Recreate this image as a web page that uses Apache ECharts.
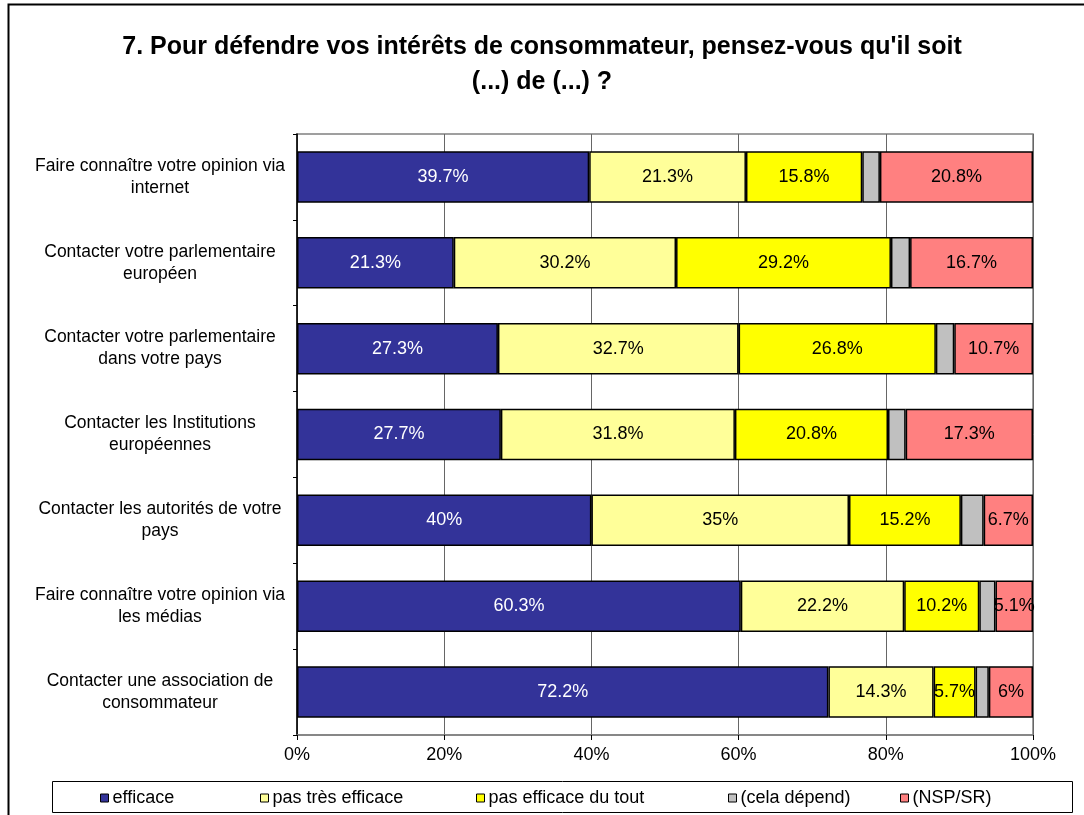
<!DOCTYPE html>
<html>
<head>
<meta charset="utf-8">
<script src="https://cdn.jsdelivr.net/npm/echarts@6/dist/echarts.min.js"></script>
<style>
  html, body { margin: 0; padding: 0; background: #fff; }
  #chart { width: 1084px; height: 815px; }
</style>
</head>
<body>
<div id="chart"></div>
<script>
// categories, top to bottom
var categories = [
    'Faire connaître votre opinion via\ninternet',
    'Contacter votre parlementaire\neuropéen',
    'Contacter votre parlementaire\ndans votre pays',
    'Contacter les Institutions\neuropéennes',
    'Contacter les autorités de votre\npays',
    'Faire connaître votre opinion via\nles médias',
    'Contacter une association de\nconsommateur'
];
var seriesNames = ['efficace', 'pas très efficace', 'pas efficace du tout', '(cela dépend)', '(NSP/SR)'];
var efficace = [39.7, 21.3, 27.3, 27.7, 40, 60.3, 72.2];
var pasTresEfficace = [21.3, 30.2, 32.7, 31.8, 35, 22.2, 14.3];
var pasEfficaceDuTout = [15.8, 29.2, 26.8, 20.8, 15.2, 10.2, 5.7];
var celaDepend = [2.4, 2.6, 2.5, 2.4, 3.1, 2.2, 1.8];
var nspSr = [20.8, 16.7, 10.7, 17.3, 6.7, 5.1, 6];
var xTicks = [0, 20, 40, 60, 80, 100];

var colors = ['#333399', '#FFFF99', '#FFFF00', '#C0C0C0', '#FF8080'];
var allData = [efficace, pasTresEfficace, pasEfficaceDuTout, celaDepend, nspSr];
var legendLeft = [95, 255, 471, 723, 895];
var font = 'Liberation Sans, Arial, sans-serif';

var myChart = echarts.init(document.getElementById('chart'));

var series = seriesNames.map(function(name, i) {
    return {
        name: name,
        type: 'bar',
        stack: 'total',
        barCategoryGap: '40%',
        data: allData[i],
        itemStyle: { color: colors[i], borderColor: '#000', borderWidth: 1.5 },
        label: {
            show: i !== 3,
            position: 'inside',
            color: i === 0 ? '#fff' : '#000',
            fontSize: 18,
            fontFamily: font,
            formatter: function(p) { return p.value + '%'; }
        },
        emphasis: { disabled: true }
    };
});

var legends = seriesNames.map(function(name, i) {
    return {
        data: [name],
        left: legendLeft[i],
        top: 784,
        icon: 'rect',
        itemWidth: 8,
        itemHeight: 8,
        itemGap: 0,
        selectedMode: false,
        itemStyle: { borderColor: '#000', borderWidth: 1 },
        textStyle: { fontSize: 18, fontFamily: font, color: '#000', padding: [0, 0, 0, -1] }
    };
});

var option = {
    animation: false,
    backgroundColor: '#fff',
    title: {
        text: "7. Pour défendre vos intérêts de consommateur, pensez-vous qu'il soit\n(...) de (...) ?",
        left: 'center',
        top: 25,
        textStyle: {
            fontSize: 25,
            fontWeight: 'bold',
            fontFamily: font,
            color: '#000',
            lineHeight: 35,
            align: 'center'
        }
    },
    legend: legends,
    grid: {
        left: 297,
        right: 51,
        top: 134,
        bottom: 80,
        show: true,
        borderColor: '#808080',
        borderWidth: 1.5
    },
    xAxis: {
        type: 'value',
        min: xTicks[0],
        max: xTicks[xTicks.length - 1],
        interval: 20,
        axisLine: { show: true, lineStyle: { color: '#808080', width: 1.5 } },
        axisTick: { show: true, length: 5, lineStyle: { color: '#000' } },
        splitLine: { show: true, lineStyle: { color: '#666', width: 1 } },
        axisLabel: {
            formatter: '{value}%',
            fontSize: 18,
            fontFamily: font,
            color: '#000',
            margin: 11
        }
    },
    yAxis: {
        type: 'category',
        inverse: true,
        data: categories,
        axisLine: { show: true, lineStyle: { color: '#000', width: 1.5 } },
        axisTick: { show: true, length: 4, lineStyle: { color: '#000' } },
        axisLabel: {
            align: 'center',
            margin: 137,
            fontSize: 17.5,
            lineHeight: 22,
            fontFamily: font,
            color: '#000'
        }
    },
    graphic: [
        {
            type: 'rect',
            shape: { x: 8.5, y: 4.5, width: 1200, height: 1000 },
            style: { fill: 'none', stroke: '#000', lineWidth: 2 },
            silent: true
        },
        {
            type: 'rect',
            shape: { x: 52.5, y: 781.5, width: 1020, height: 31 },
            style: { fill: 'none', stroke: '#000', lineWidth: 1 },
            silent: true
        }
    ],
    series: series
};

myChart.setOption(option);
</script>
</body>
</html>
